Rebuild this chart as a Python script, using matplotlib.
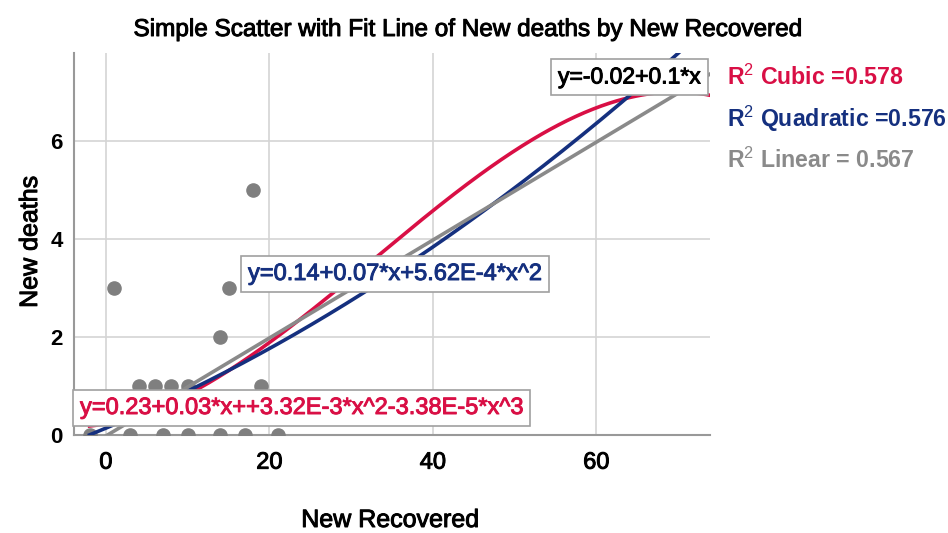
import numpy as np
import matplotlib
matplotlib.use("Agg")
import matplotlib.pyplot as plt
import matplotlib.patheffects as pe

plt.rcParams['font.family'] = ['Liberation Sans', 'DejaVu Sans']
plt.rcParams['mathtext.fontset'] = 'custom'
plt.rcParams['mathtext.rm'] = 'Liberation Sans'
plt.rcParams['mathtext.it'] = 'Liberation Sans'
plt.rcParams['mathtext.bf'] = 'Liberation Sans:bold'

# データ
new_recovered = [1, 15, 14, 18, 4, 6, 8, 10, 19, -2, 3, 7, 10, 14, 17, 21]
new_deaths = [3, 3, 2, 5, 1, 1, 1, 1, 1, 0, 0, 0, 0, 0, 0, 0]

# フィット係数
linear_coef = [-0.02, 0.1]
quad_coef = [0.14, 0.07, 5.62e-4]
cubic_coef = [0.23, 0.03, 3.32e-3, -3.38e-5]

r2_labels = ['Cubic =0.578', 'Quadratic =0.576', 'Linear = 0.567']
eq_labels = ['y=0.23+0.03*x++3.32E-3*x^2-3.38E-5*x^3',
             'y=0.14+0.07*x+5.62E-4*x^2',
             'y=-0.02+0.1*x']

RED = '#d90f45'
NAVY = '#15307f'
GRAY = '#8a8a8a'


def heavy(c):
    # 文字を少し太く見せる
    return [pe.withStroke(linewidth=0.7, foreground=c)]


W, H = 948, 533
fig = plt.figure(figsize=(W / 100, H / 100), dpi=100)
ax = fig.add_axes([74 / W, 1 - 435 / H, (710 - 74) / W, (435 - 53) / H])

ax.set_xlim(-3.9, 73.9)
ax.set_ylim(0, 7.8)
ax.set_xticks([0, 20, 40, 60])
ax.set_yticks([0, 2, 4, 6])
ax.grid(True, color='#d4d4d4', linewidth=1.2)
ax.set_axisbelow(True)
for s in ['top', 'right']:
    ax.spines[s].set_visible(False)
for s in ['left', 'bottom']:
    ax.spines[s].set_color('#999999')
    ax.spines[s].set_linewidth(1.5)
ax.tick_params(axis='x', length=0, labelsize=17, pad=12)
ax.tick_params(axis='y', length=0, labelsize=16, pad=8)
for lab in ax.get_yticklabels():
    lab.set_fontweight('bold')
for lab in ax.get_xticklabels():
    lab.set_path_effects(heavy('black'))

ax.scatter(new_recovered, new_deaths, s=90, color='#7f7f7f', zorder=3)

xs = np.linspace(-2, 76, 300)
ax.plot(xs, np.polyval(cubic_coef[::-1], xs), color=RED, lw=2.6, zorder=4)
ax.plot(xs, np.polyval(quad_coef[::-1], xs), color=NAVY, lw=2.6, zorder=4)
ax.plot(xs, np.polyval(linear_coef[::-1], xs), color=GRAY, lw=2.6, zorder=4)

# 式のラベル
box = dict(boxstyle='square,pad=0.3', facecolor='white', edgecolor='#a0a0a0', linewidth=1.2)
fig.text(80 / W, 1 - 408 / H, eq_labels[0], color=RED, fontsize=17, va='center', ha='left',
         bbox=box, zorder=5, path_effects=heavy(RED))
fig.text(248 / W, 1 - 274 / H, eq_labels[1], color=NAVY, fontsize=17, va='center', ha='left',
         bbox=box, zorder=5, path_effects=heavy(NAVY))
fig.text(558 / W, 1 - 77 / H, eq_labels[2], color='black', fontsize=16.5, va='center', ha='left',
         bbox=box, zorder=5, path_effects=heavy('black'))

# R2 凡例
for i, (lab, c) in enumerate(zip(r2_labels, [RED, NAVY, GRAY])):
    fig.text(727 / W, 1 - (77 + 41.5 * i) / H, r'R$^2$ ' + lab, color=c, fontsize=16.7,
             fontweight='bold', va='center', ha='left')

fig.text(467 / W, 1 - 30 / H, 'Simple Scatter with Fit Line of New deaths by New Recovered',
         fontsize=17.5, ha='center', va='center', path_effects=heavy('black'))
fig.text(390 / W, 1 - 520 / H, 'New Recovered', fontsize=18, ha='center', va='center',
         path_effects=heavy('black'))
fig.text(30 / W, 1 - 242 / H, 'New deaths', fontsize=18, ha='center', va='center', rotation=90,
         path_effects=heavy('black'))

fig.savefig('out.png', dpi=100)
